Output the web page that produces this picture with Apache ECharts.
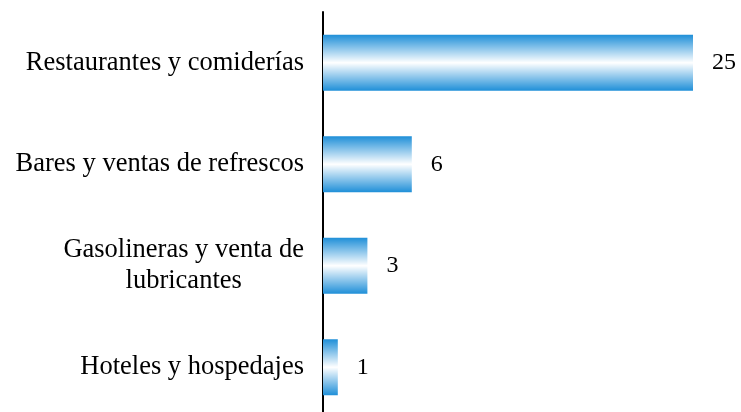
<!DOCTYPE html>
<html>
<head>
<meta charset="utf-8">
<script src="https://cdn.jsdelivr.net/npm/echarts@6/dist/echarts.min.js"></script>
<style>
  html, body { margin: 0; padding: 0; background: #fff; }
  #chart { width: 741px; height: 412px; }
</style>
</head>
<body>
<div id="chart"></div>
<script>
const categories = [
  'Restaurantes y comiderías',
  'Bares y ventas de refrescos',
  'Gasolineras y venta de\nlubricantes',
  'Hoteles y hospedajes'
]
const values = [25, 6, 3, 1]

const chart = echarts.init(document.getElementById('chart'))

// azul arriba y abajo, blanco al centro
const barColor = new echarts.graphic.LinearGradient(0, 0, 0, 1, [
  { offset: 0, color: '#1f8fd8' },
  { offset: 0.5, color: '#ffffff' },
  { offset: 1, color: '#1f8fd8' }
])

chart.setOption({
  animation: false,
  grid: {
    left: 323,
    width: 370,
    top: 12,
    height: 406,
    outerBoundsMode: 'none'
  },
  xAxis: {
    type: 'value',
    min: 0,
    max: 25,
    show: false
  },
  yAxis: {
    type: 'category',
    inverse: true,
    data: categories,
    axisLine: { lineStyle: { color: '#000', width: 2 } },
    axisTick: { show: false },
    axisLabel: {
      margin: 19,
      color: '#000',
      fontFamily: 'Liberation Serif',
      fontSize: 26.5,
      lineHeight: 31,
      formatter: (v) => '{c|' + v + '}',
      rich: {
        c: { align: 'center', fontFamily: 'Liberation Serif', fontSize: 26.5, lineHeight: 31, color: '#000' }
      }
    }
  },
  series: [
    {
      type: 'bar',
      data: values,
      barWidth: 56,
      itemStyle: { color: barColor },
      label: {
        show: true,
        position: 'right',
        distance: 19,
        color: '#000',
        fontFamily: 'Liberation Serif',
        fontSize: 24
      }
    }
  ]
})
</script>
</body>
</html>
